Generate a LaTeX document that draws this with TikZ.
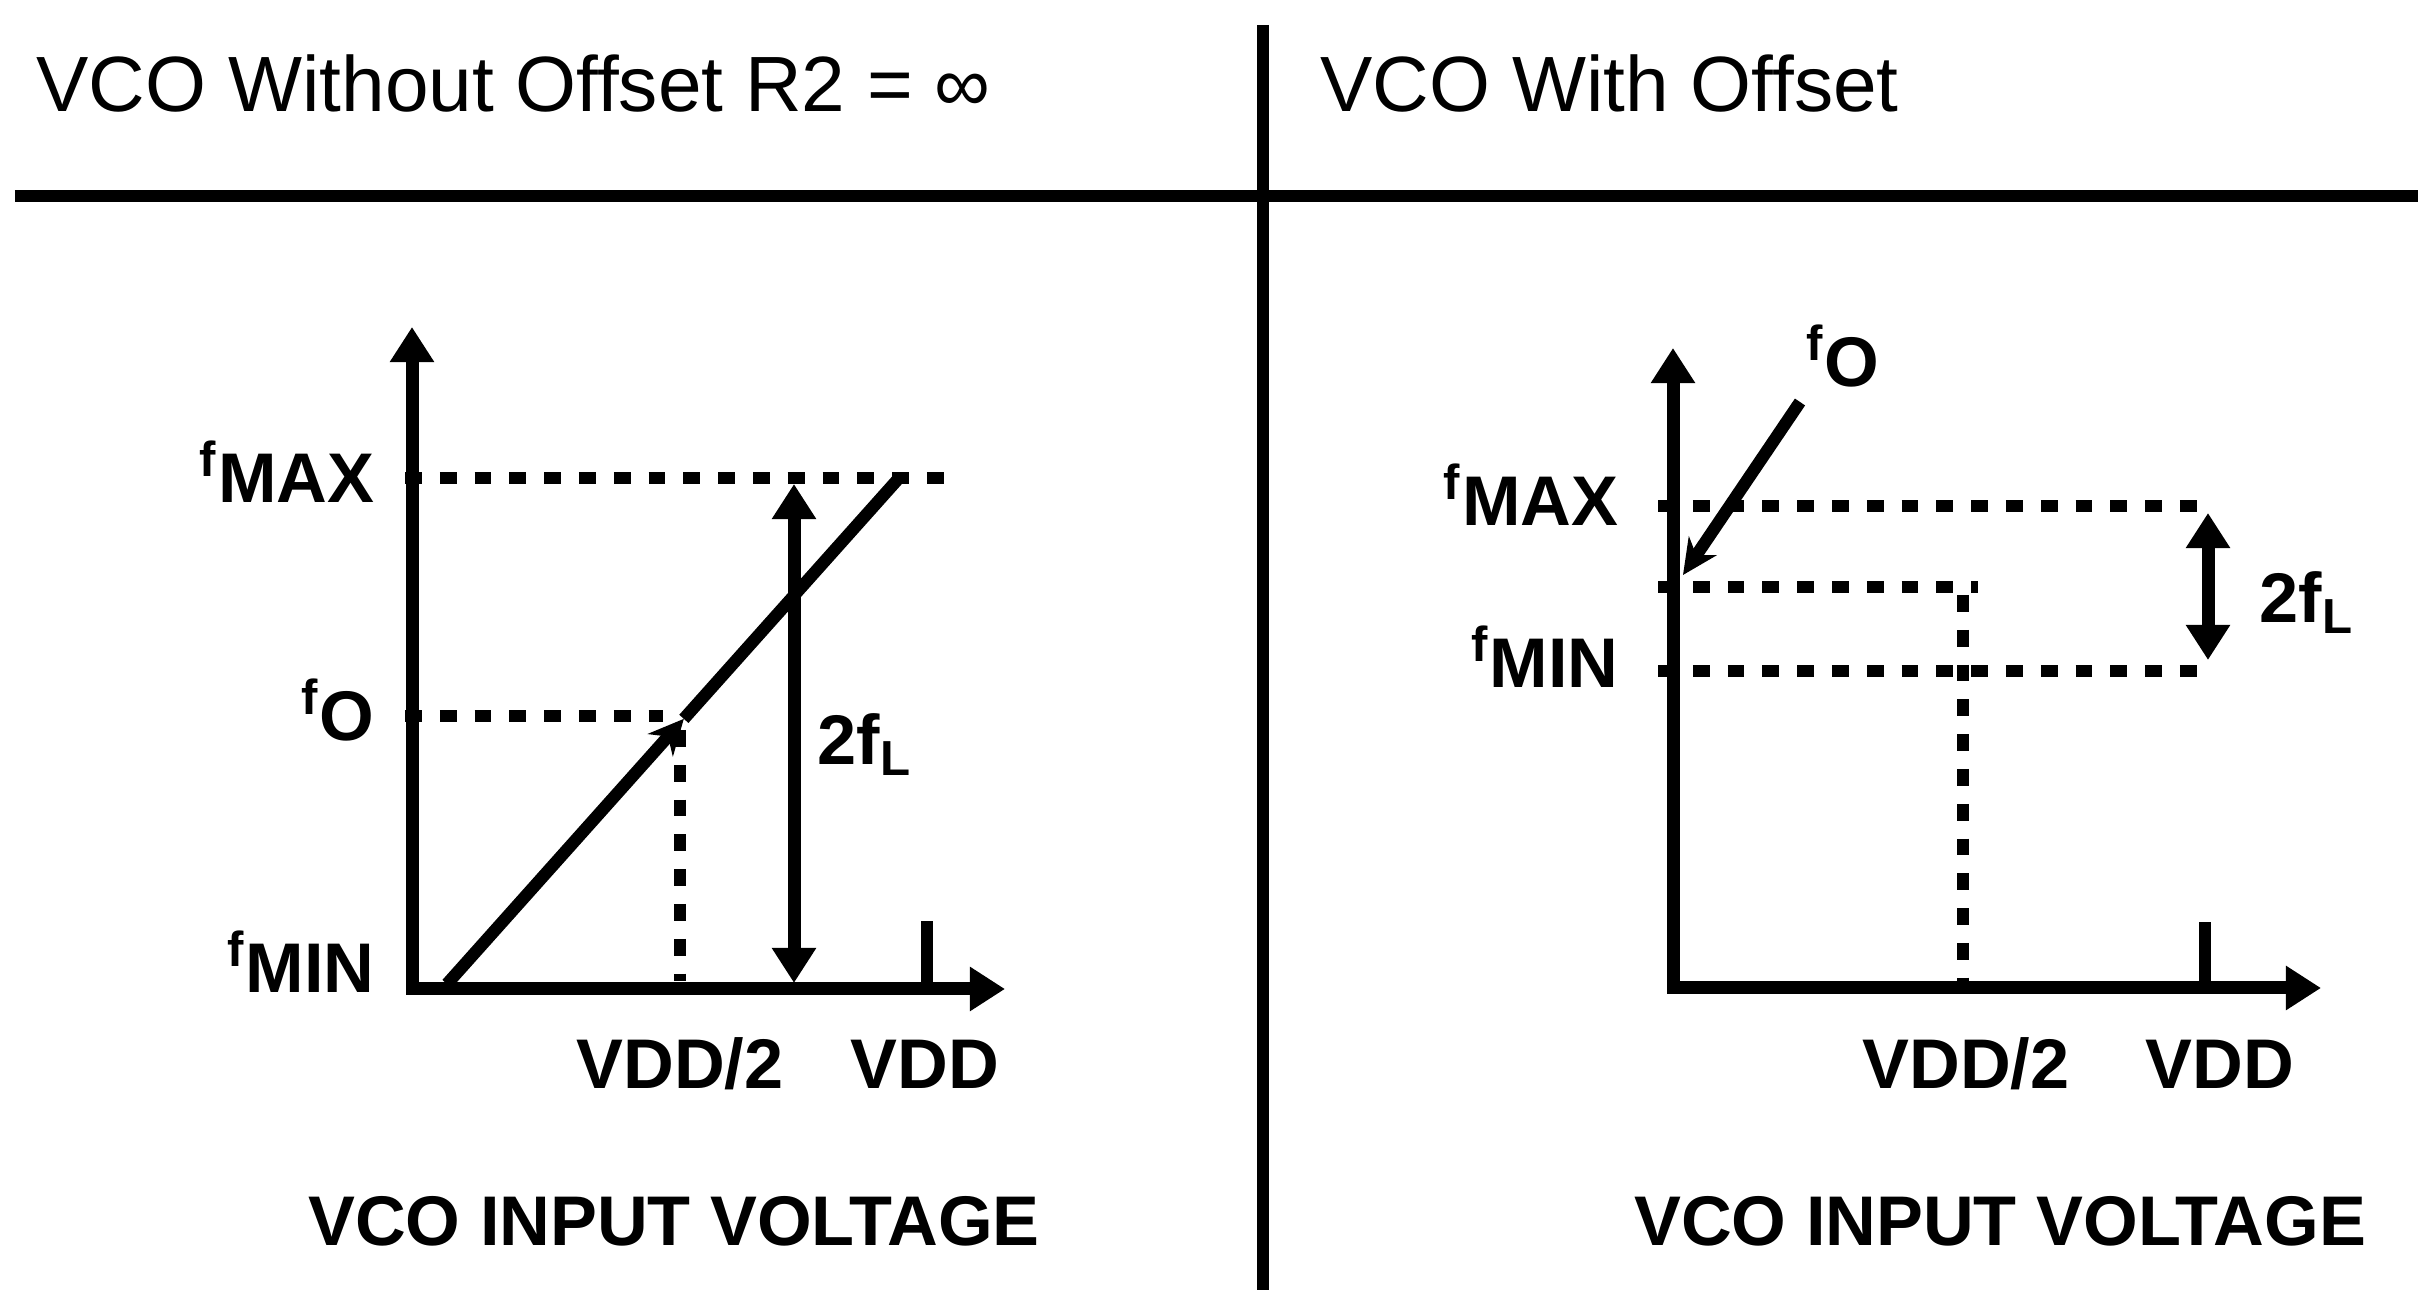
\documentclass[tikz,border=0pt]{standalone}
\usepackage{fontspec}
\setmainfont{Liberation Sans}
\usetikzlibrary{arrows.meta, calc, positioning}
\tikzset{
  % assi con freccia alle due estremita
  axes/.style={line width=3.7pt, {Triangle[length=10pt, width=12pt]}-{Triangle[length=10pt, width=12pt]}},
  % tacca di VDD
  tickmark/.style={line width=3.5pt},
  % linee tratteggiate di riferimento
  guide/.style={line width=3.4pt, dash pattern=on 4.8pt off 5.1pt},
  % escursione 2fL
  span/.style={line width=3.7pt, {Triangle[length=10pt, width=12pt]}-{Triangle[length=10pt, width=12pt]}},
  curve/.style={line width=3.5pt},
  pointer/.style={line width=3.5pt, -{Stealth[length=10pt, width=9.5pt]}},
  rule/.style={line width=3.5pt},
  % etichette
  lbl/.style={font=\fontsize{20}{24}\selectfont\bfseries, inner sep=0pt},
  ttl/.style={font=\fontsize{22.3}{26}\selectfont, inner sep=0pt},
}
\begin{document}
\begin{tikzpicture}
  \useasboundingbox (0,0) rectangle (24.18,12.90);
  % intestazione
  \coordinate (ruleL) at (0.15,10.94); \coordinate (ruleR) at (24.18,10.94);
  \coordinate (divT) at (12.63,12.65); \coordinate (divB) at (12.63,0);
  \draw[rule] (ruleL) -- (ruleR);
  \draw[rule] (divT) -- (divB);
  \node[ttl, anchor=base west] (ttlA) at (0.36,11.78) {VCO Without Offset R2 = ∞};
  \node[ttl, anchor=base west] (ttlB) at (13.20,11.78) {VCO With Offset};

  % pannello sinistro
  \coordinate (oA) at (4.12,3.01); \coordinate (yA) at (4.12,9.63); \coordinate (xA) at (10.05,3.01);
  \coordinate (lowA) at (4.47,3.06); \coordinate (topA) at (8.99,8.12);
  \coordinate (foA) at ($(lowA)!0.524!(topA)$);
  \draw[guide] (4.05,8.12) coordinate (gmaxA) -- (9.44,8.12) coordinate (gmaxA2);
  \draw[guide] (4.05,5.74) coordinate (goA) -- (6.63,5.74) coordinate (goA2);
  \draw[guide] (6.80,5.60) coordinate (vhA) -- (6.80,3.09) coordinate (vhA2);
  \draw[axes] (yA) -- (oA) -- (xA);
  \draw[tickmark] (9.27,3.01) coordinate (tA) -- (9.27,3.69) coordinate (tA2);
  \draw[pointer] (lowA) -- (foA);
  \draw[curve] (foA) -- (topA);
  \draw[span] (7.94,8.06) coordinate (sA) -- (7.94,3.07) coordinate (sA2);
  \node[lbl, anchor=base east] (fmaxA) at (3.75,7.87) {\textsuperscript{f}MAX};
  \node[lbl, anchor=base east] (fo lblA) at (3.75,5.49) {\textsuperscript{f}O};
  \node[lbl, anchor=base east] (fminA) at (3.75,2.97) {\textsuperscript{f}MIN};
  \node[lbl, anchor=base west] (twoflA) at (8.17,5.25) {2f\textsubscript{L}};
  \node[lbl, anchor=base] (halfA) at (6.80,2.01) {VDD/2};
  \node[lbl, anchor=base] (vddA) at (9.25,2.01) {VDD};
  \node[lbl, anchor=base] (inA) at (6.74,0.44) {VCO INPUT VOLTAGE};

  % pannello destro
  \coordinate (oB) at (16.73,3.02); \coordinate (yB) at (16.73,9.42); \coordinate (xB) at (23.21,3.02);
  \draw[guide] (16.58,7.84) coordinate (gmaxB) -- (22.00,7.84) coordinate (gmaxB2);
  \draw[guide] (16.58,7.03) coordinate (goB) -- (19.78,7.03) coordinate (goB2);
  \draw[guide] (16.58,6.19) coordinate (gminB) -- (22.00,6.19) coordinate (gminB2);
  \draw[guide] (19.63,6.95) coordinate (vhB) -- (19.63,3.09) coordinate (vhB2);
  \draw[axes] (yB) -- (oB) -- (xB);
  \draw[tickmark] (22.05,3.02) coordinate (tB) -- (22.05,3.68) coordinate (tB2);
  \draw[span] (22.08,7.77) coordinate (sB) -- (22.08,6.30) coordinate (sB2);
  \node[lbl, anchor=base west] (fo lblB) at (18.06,9.03) {\textsuperscript{f}O};
  \coordinate (pB) at (18.00,8.88); \coordinate (pB2) at (16.83,7.15);
  \draw[pointer] (pB) -- (pB2);
  \node[lbl, anchor=base east] (fmaxB) at (16.19,7.64) {\textsuperscript{f}MAX};
  \node[lbl, anchor=base east] (fminB) at (16.19,6.02) {\textsuperscript{f}MIN};
  \node[lbl, anchor=base west] (twoflB) at (22.59,6.67) {2f\textsubscript{L}};
  \node[lbl, anchor=base] (halfB) at (19.66,2.01) {VDD/2};
  \node[lbl, anchor=base] (vddB) at (22.20,2.01) {VDD};
  \node[lbl, anchor=base] (inB) at (20.00,0.44) {VCO INPUT VOLTAGE};
\end{tikzpicture}
\end{document}
